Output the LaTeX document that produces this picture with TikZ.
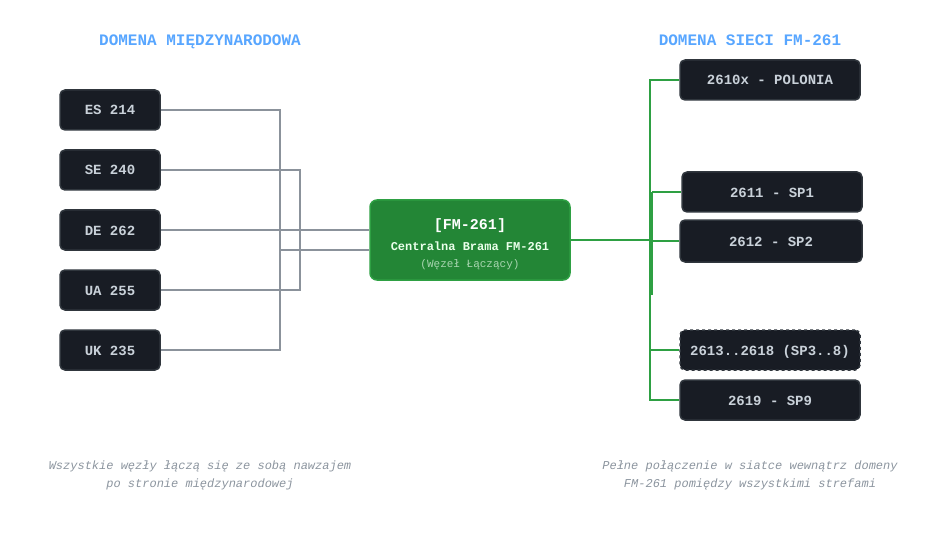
\documentclass[tikz,border=0pt]{standalone}
\usepackage{fontspec}
\setmainfont{Liberation Mono}
\setmonofont{Liberation Mono}
\definecolor{boxfill}{HTML}{181C24}
\definecolor{boxline}{HTML}{30363D}
\definecolor{boxtext}{HTML}{C9D1D9}
\definecolor{gwire}{HTML}{8B929B}
\definecolor{gnwire}{HTML}{2EA043}
\definecolor{hubfill}{HTML}{238636}
\definecolor{hubline}{HTML}{2EA043}
\definecolor{headblue}{HTML}{58A6FF}
\definecolor{notegray}{HTML}{8B949E}
\definecolor{subgreen}{HTML}{A8D5B0}
\tikzset{
  zonebox/.style={draw=boxline, line width=1.5pt, fill=boxfill, rounded corners=5pt,
    text=boxtext, font=\fontsize{14}{16}\selectfont\bfseries, inner sep=0pt,
    text height=10pt, text depth=0pt},
  leftbox/.style={zonebox, minimum width=100pt, minimum height=40pt},
  rightbox/.style={zonebox, minimum width=180pt, minimum height=40pt},
  intwire/.style={gwire, line width=1.5pt},
  fmwire/.style={gnwire, line width=2pt},
  heading/.style={text=headblue, font=\fontsize{16}{18}\selectfont\bfseries,
    text height=9pt, text depth=0pt, inner sep=0pt},
  note/.style={text=notegray, font=\fontsize{12}{18}\selectfont\itshape, align=center},
}
\begin{document}
\begin{tikzpicture}[x=1pt,y=-1pt]
\useasboundingbox (0,0) rectangle (950,540);
% headings
\node[heading] (h1) at (200,41) {DOMENA MIĘDZYNARODOWA};
\node[heading] (h2) at (750,41) {DOMENA SIECI FM-261};
% left boxes
\node[leftbox] (es) at (110,110) {ES 214};
\node[leftbox] (se) at (110,170) {SE 240};
\node[leftbox] (de) at (110,230) {DE 262};
\node[leftbox] (ua) at (110,290) {UA 255};
\node[leftbox] (uk) at (110,350) {UK 235};
% hub
\node[draw=hubline, line width=1.5pt, fill=hubfill, rounded corners=7pt,
  minimum width=200pt, minimum height=80pt] (hub) at (470,240) {};
\node[text=white, font=\fontsize{15}{17}\selectfont\bfseries] (hubt) at (470,226) {[FM-261]};
\node[text=white!92!green, font=\fontsize{12}{14}\selectfont\bfseries] (hubs) at (470,246) {Centralna Brama FM-261};
\node[text=subgreen, font=\fontsize{11}{13}\selectfont] (hubn) at (470,265) {(Węzeł Łączący)};
% right boxes
\node[rightbox] (pl) at (770,80) {2610x - POLONIA};
\node[rightbox] (sp1) at (772,192) {2611 - SP1};
\node[rightbox, minimum width=182pt, minimum height=42pt] (sp2) at (771,241) {2612 - SP2};
\node[rightbox, dashed] (sp38) at (770,350) {2613..2618 (SP3..8)};
\node[rightbox] (sp9) at (770,400) {2619 - SP9};
% international wiring
\coordinate (bl1) at (280,110);
\coordinate (bl2) at (280,350);
\coordinate (bl3) at (300,170);
\coordinate (bl4) at (300,290);
\coordinate (bl5) at (280,250);
\draw[intwire] (es.east) -- (bl1) -- (bl2) -- (uk.east);
\draw[intwire] (se.east) -- (bl3) -- (bl4) -- (ua.east);
\draw[intwire] (de.east) -- (hub.west |- de.east);
\draw[intwire] (bl5) -- (hub.west |- bl5);
% FM-261 wiring
\coordinate (tr1) at (650,80);
\coordinate (tr2) at (650,400);
\coordinate (tr3) at (650,240);
\coordinate (tr4) at (652,192);
\coordinate (tr5) at (652,295);
\draw[fmwire] (hub.east) -- (tr3);
\draw[fmwire] (pl.west) -- (tr1) -- (tr2) -- (sp9.west);
\draw[fmwire] (tr4) -- (tr5);
\draw[fmwire] (tr4) -- (sp1.west);
\draw[fmwire] (tr4 |- sp2.west) -- (sp2.west);
\draw[fmwire] (tr1 |- sp38.west) -- (sp38.west);
% notes
\node[note] (n1) at (200,475) {Wszystkie węzły łączą się ze sobą nawzajem\\po stronie międzynarodowej};
\node[note] (n2) at (750,475) {Pełne połączenie w siatce wewnątrz domeny\\FM-261 pomiędzy wszystkimi strefami};
\end{tikzpicture}
\end{document}
